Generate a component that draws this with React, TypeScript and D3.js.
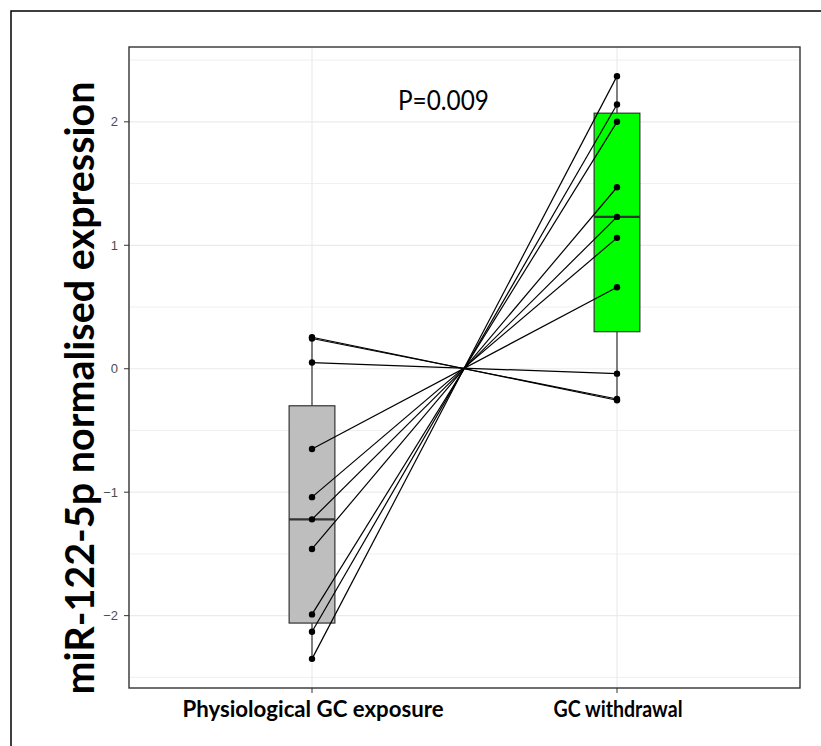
import { useEffect, useRef } from 'react';
import * as d3 from 'd3';

const groups = ['Physiological GC exposure', 'GC withdrawal'];
const groupColors = ['#bebebe', '#00ff00'];

// paired samples, same index = same subject
const physiological = [0.255, 0.245, 0.05, -0.65, -1.04, -1.22, -1.46, -1.99, -2.13, -2.35];
const withdrawal = [-0.255, -0.245, -0.04, 0.66, 1.06, 1.23, 1.47, 2.0, 2.14, 2.37];

// box summaries
const boxLower = [-2.06, 0.3];
const boxMedian = [-1.22, 1.23];
const boxUpper = [-0.3, 2.07];
const whiskerLow = [-2.35, -0.255];
const whiskerHigh = [0.255, 2.37];

const yTicks = [-2, -1, 0, 1, 2];
const yMinor = [-2.5, -1.5, -0.5, 0.5, 1.5, 2.5];

const pLabel = 'P=0.009';
const yTitle = 'miR-122-5p normalised expression';

export default function App() {
  const svgRef = useRef<SVGSVGElement>(null);

  useEffect(() => {
    if (!svgRef.current) return;
    document.body.style.margin = '0';

    const width = 821;
    const height = 746;
    const panel = { left: 129, right: 800, top: 47, bottom: 688 };

    d3.select(svgRef.current).selectAll('*').remove();
    const svg = d3.select(svgRef.current)
      .attr('width', width)
      .attr('height', height);

    svg.append('rect').attr('width', width).attr('height', height).attr('fill', '#fff');

    // outer frame (only top and left visible)
    svg.append('path')
      .attr('d', `M11,${height} L11,11 L${width},11`)
      .attr('fill', 'none')
      .attr('stroke', '#000')
      .attr('stroke-width', 1.5);

    const allVals = physiological.concat(withdrawal);
    const lo = d3.min(allVals) as number;
    const hi = d3.max(allVals) as number;
    const pad = (hi - lo) * 0.05;

    const y = d3.scaleLinear()
      .domain([lo - pad, hi + pad])
      .range([panel.bottom, panel.top]);

    const x = d3.scalePoint<string>()
      .domain(groups)
      .range([panel.left, panel.right])
      .padding(0.6);

    const boxW = x.step() * 0.15;

    // grid
    const grid = svg.append('g');
    grid.selectAll('.minor')
      .data(yMinor)
      .join('line')
      .attr('x1', panel.left).attr('x2', panel.right)
      .attr('y1', d => y(d)).attr('y2', d => y(d))
      .attr('stroke', '#ebebeb').attr('stroke-width', 0.8);
    grid.selectAll('.major')
      .data(yTicks)
      .join('line')
      .attr('x1', panel.left).attr('x2', panel.right)
      .attr('y1', d => y(d)).attr('y2', d => y(d))
      .attr('stroke', '#ebebeb').attr('stroke-width', 1.2);
    grid.selectAll('.vmajor')
      .data(groups)
      .join('line')
      .attr('x1', d => x(d)!).attr('x2', d => x(d)!)
      .attr('y1', panel.top).attr('y2', panel.bottom)
      .attr('stroke', '#ebebeb').attr('stroke-width', 1.2);

    // boxes
    const boxes = svg.append('g');
    groups.forEach((gname, i) => {
      const cx = x(gname)!;
      boxes.append('line')
        .attr('x1', cx).attr('x2', cx)
        .attr('y1', y(whiskerHigh[i])).attr('y2', y(boxUpper[i]))
        .attr('stroke', '#333').attr('stroke-width', 1.2);
      boxes.append('line')
        .attr('x1', cx).attr('x2', cx)
        .attr('y1', y(boxLower[i])).attr('y2', y(whiskerLow[i]))
        .attr('stroke', '#333').attr('stroke-width', 1.2);
      boxes.append('rect')
        .attr('x', cx - boxW / 2)
        .attr('y', y(boxUpper[i]))
        .attr('width', boxW)
        .attr('height', y(boxLower[i]) - y(boxUpper[i]))
        .attr('fill', groupColors[i])
        .attr('stroke', '#333')
        .attr('stroke-width', 1.2);
      boxes.append('line')
        .attr('x1', cx - boxW / 2).attr('x2', cx + boxW / 2)
        .attr('y1', y(boxMedian[i])).attr('y2', y(boxMedian[i]))
        .attr('stroke', '#333').attr('stroke-width', 2.2);
    });

    // paired lines
    const x0 = x(groups[0])!;
    const x1 = x(groups[1])!;
    svg.append('g')
      .selectAll('line')
      .data(physiological.map((v, i) => [v, withdrawal[i]]))
      .join('line')
      .attr('x1', x0).attr('y1', d => y(d[0]))
      .attr('x2', x1).attr('y2', d => y(d[1]))
      .attr('stroke', '#000').attr('stroke-width', 1.2);

    const pts = svg.append('g');
    pts.selectAll('.p0')
      .data(physiological)
      .join('circle')
      .attr('cx', x0).attr('cy', d => y(d)).attr('r', 3.2).attr('fill', '#000');
    pts.selectAll('.p1')
      .data(withdrawal)
      .join('circle')
      .attr('cx', x1).attr('cy', d => y(d)).attr('r', 3.2).attr('fill', '#000');

    // panel border
    svg.append('rect')
      .attr('x', panel.left).attr('y', panel.top)
      .attr('width', panel.right - panel.left)
      .attr('height', panel.bottom - panel.top)
      .attr('fill', 'none')
      .attr('stroke', '#333')
      .attr('stroke-width', 1.4);

    // y axis
    const yAxis = svg.append('g');
    yAxis.selectAll('line')
      .data(yTicks)
      .join('line')
      .attr('x1', panel.left - 5).attr('x2', panel.left)
      .attr('y1', d => y(d)).attr('y2', d => y(d))
      .attr('stroke', '#333').attr('stroke-width', 1);
    yAxis.selectAll('text')
      .data(yTicks)
      .join('text')
      .attr('x', panel.left - 11)
      .attr('y', d => y(d))
      .attr('dy', '0.35em')
      .attr('text-anchor', 'end')
      .style('font-family', '"Liberation Sans", Arial, sans-serif')
      .style('font-size', '13px')
      .style('fill', '#4d4d4d')
      .text(d => d3.format('d')(d));

    // x axis
    const xLabelWidths = [261, 129];
    const xAxis = svg.append('g');
    xAxis.selectAll('line')
      .data(groups)
      .join('line')
      .attr('x1', d => x(d)!).attr('x2', d => x(d)!)
      .attr('y1', panel.bottom).attr('y2', panel.bottom + 5)
      .attr('stroke', '#333').attr('stroke-width', 1);
    xAxis.selectAll('text')
      .data(groups)
      .join('text')
      .attr('x', d => x(d)! + 1)
      .attr('y', 717)
      .attr('text-anchor', 'middle')
      .attr('textLength', (d, i) => xLabelWidths[i])
      .attr('lengthAdjust', 'spacingAndGlyphs')
      .style('font-family', 'Lato, "Open Sans", sans-serif')
      .style('font-weight', 'bold')
      .style('font-size', '22px')
      .style('fill', '#000')
      .text(d => d);

    // y title
    svg.append('text')
      .attr('transform', 'translate(94,388) rotate(-90)')
      .attr('text-anchor', 'middle')
      .attr('textLength', 613)
      .attr('lengthAdjust', 'spacingAndGlyphs')
      .style('font-family', 'Lato, "Open Sans", sans-serif')
      .style('font-weight', 'bold')
      .style('font-size', '40px')
      .style('fill', '#000')
      .text(yTitle);

    // p-value annotation
    svg.append('text')
      .attr('x', (x0 + x1) / 2 - 21)
      .attr('y', 110)
      .attr('text-anchor', 'middle')
      .attr('textLength', 91)
      .attr('lengthAdjust', 'spacingAndGlyphs')
      .style('font-family', 'Lato, "Open Sans", sans-serif')
      .style('font-size', '26px')
      .style('fill', '#000')
      .text(pLabel);
  }, []);

  return (
    <div style={{ position: 'relative' }}>
      <svg ref={svgRef} style={{ display: 'block' }}></svg>
    </div>
  );
}
